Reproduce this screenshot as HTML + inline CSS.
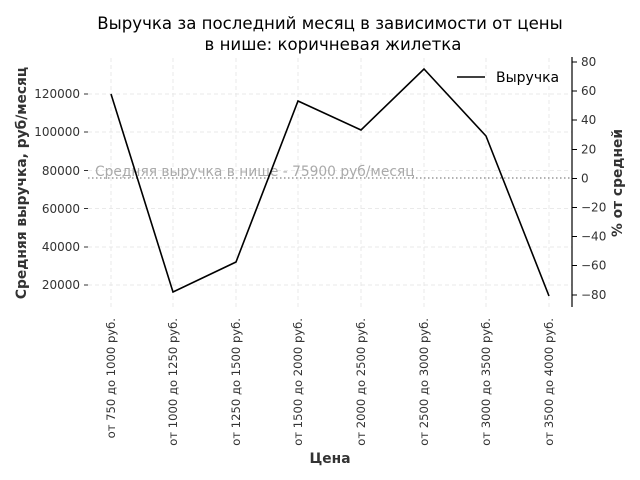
<!DOCTYPE html>
<html><head><meta charset="utf-8"><style>
body{margin:0;background:#fff}
svg{display:block;font-family:"DejaVu Sans","Liberation Sans",sans-serif}
</style></head><body>
<svg width="640" height="480" viewBox="0 0 640 480">
<rect width="640" height="480" fill="#fff"/>
<text x="330" y="29" font-size="16.6" text-anchor="middle" fill="#000">Выручка за последний месяц в зависимости от цены</text>
<text x="333" y="50" font-size="16.6" text-anchor="middle" fill="#000">в нише: коричневая жилетка</text>
<g stroke="#e3e3e3" stroke-width="0.8" stroke-dasharray="4,3">
<line x1="111" y1="58" x2="111" y2="307"/><line x1="173" y1="58" x2="173" y2="307"/>
<line x1="236" y1="58" x2="236" y2="307"/><line x1="298" y1="58" x2="298" y2="307"/>
<line x1="361" y1="58" x2="361" y2="307"/><line x1="424" y1="58" x2="424" y2="307"/>
<line x1="486" y1="58" x2="486" y2="307"/><line x1="549" y1="58" x2="549" y2="307"/>
<line x1="88" y1="94" x2="572" y2="94"/><line x1="88" y1="132" x2="572" y2="132"/>
<line x1="88" y1="170.5" x2="572" y2="170.5"/><line x1="88" y1="208.5" x2="572" y2="208.5"/>
<line x1="88" y1="247" x2="572" y2="247"/><line x1="88" y1="285" x2="572" y2="285"/>
</g>
<g fill="#333" font-size="12" text-anchor="end">
<text x="80" y="98">120000</text><text x="80" y="136">100000</text><text x="80" y="175">80000</text>
<text x="80" y="213">60000</text><text x="80" y="251">40000</text><text x="80" y="289">20000</text>
</g>
<g stroke="#333" stroke-width="1">
<line x1="84" y1="94" x2="88" y2="94"/><line x1="84" y1="132" x2="88" y2="132"/><line x1="84" y1="170.5" x2="88" y2="170.5"/>
<line x1="84" y1="208.5" x2="88" y2="208.5"/><line x1="84" y1="247" x2="88" y2="247"/><line x1="84" y1="285" x2="88" y2="285"/>
</g>
<text transform="translate(26,183) rotate(-90)" font-size="13.8" font-weight="bold" fill="#333" text-anchor="middle">Средняя выручка, руб/месяц</text>
<line x1="88" y1="178" x2="572" y2="178" stroke="#999" stroke-width="1.5" stroke-dasharray="1.5,2.5"/>
<text x="95" y="176" font-size="13.8" fill="#aaa">Средняя выручка в нише - 75900 руб/месяц</text>
<polyline fill="none" stroke="#000" stroke-width="1.6" points="111,94 173,292 236,262 298,101 361,130 424,69 486,136 549,296"/>
<line x1="572" y1="57" x2="572" y2="307" stroke="#000" stroke-width="1.2"/>
<g stroke="#000" stroke-width="1">
<line x1="572" y1="62" x2="577" y2="62"/><line x1="572" y1="91" x2="577" y2="91"/><line x1="572" y1="120" x2="577" y2="120"/>
<line x1="572" y1="149.5" x2="577" y2="149.5"/><line x1="572" y1="178.5" x2="577" y2="178.5"/><line x1="572" y1="207.5" x2="577" y2="207.5"/>
<line x1="572" y1="236.5" x2="577" y2="236.5"/><line x1="572" y1="265.5" x2="577" y2="265.5"/><line x1="572" y1="295" x2="577" y2="295"/>
</g>
<g fill="#333" font-size="12">
<text x="581" y="66">80</text><text x="581" y="95">60</text><text x="581" y="124">40</text><text x="581" y="153.5">20</text>
<text x="581" y="182.5">0</text><text x="581" y="211.5">−20</text><text x="581" y="240.5">−40</text><text x="581" y="269.5">−60</text><text x="581" y="299">−80</text>
</g>
<text transform="translate(622,183) rotate(-90)" font-size="13.8" font-weight="bold" fill="#333" text-anchor="middle">% от средней</text>
<line x1="457" y1="77" x2="485" y2="77" stroke="#000" stroke-width="1.6"/>
<text x="496" y="82" font-size="14" fill="#000">Выручка</text>
<g fill="#333" font-size="11.6" text-anchor="end">
<text transform="translate(115,318) rotate(-90)">от 750 до 1000 руб.</text>
<text transform="translate(177,318) rotate(-90)">от 1000 до 1250 руб.</text>
<text transform="translate(240,318) rotate(-90)">от 1250 до 1500 руб.</text>
<text transform="translate(302,318) rotate(-90)">от 1500 до 2000 руб.</text>
<text transform="translate(365,318) rotate(-90)">от 2000 до 2500 руб.</text>
<text transform="translate(428,318) rotate(-90)">от 2500 до 3000 руб.</text>
<text transform="translate(490,318) rotate(-90)">от 3000 до 3500 руб.</text>
<text transform="translate(553,318) rotate(-90)">от 3500 до 4000 руб.</text>
</g>
<text x="330" y="463" font-size="13.8" font-weight="bold" fill="#333" text-anchor="middle">Цена</text>
</svg>
</body></html>
